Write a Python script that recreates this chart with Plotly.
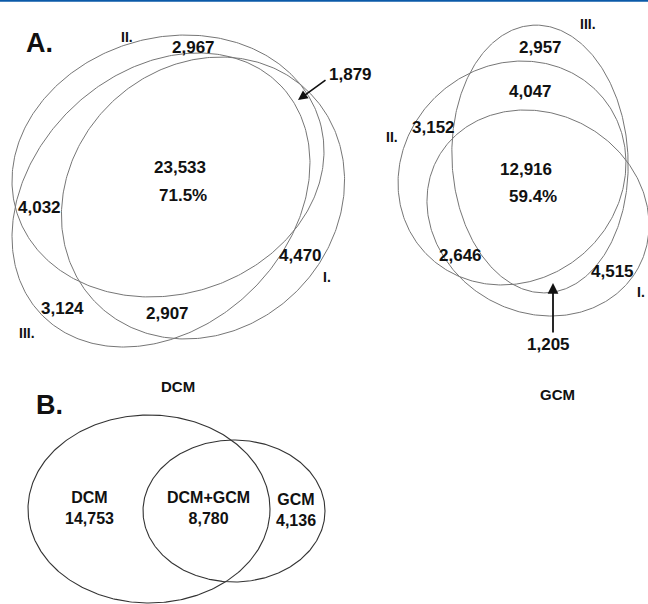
import numpy as np
import plotly.graph_objects as go

# ---- data ----
dcm_regions = ["all", "II only", "I+II", "II+III", "I only", "III only", "I+III"]
dcm_values = [23533, 2967, 1879, 4032, 4470, 3124, 2907]
dcm_percent = "71.5%"

gcm_regions = ["all", "III only", "II+III", "II only", "I+II", "I only", "I+III"]
gcm_values = [12916, 2957, 4047, 3152, 2646, 4515, 1205]
gcm_percent = "59.4%"

b_labels = ["DCM", "DCM+GCM", "GCM"]
b_values = [14753, 8780, 4136]

set_names = ["I.", "II.", "III."]

W, H = 648, 604
fig = go.Figure()

def ellipse(cx, cy, a, b, th, color="#767676", width=1.0):
    t = np.linspace(0, 2 * np.pi, 400)
    r = np.radians(th)
    x = cx + a * np.cos(t) * np.cos(r) - b * np.sin(t) * np.sin(r)
    y = cy - (a * np.cos(t) * np.sin(r) + b * np.sin(t) * np.cos(r))
    fig.add_trace(go.Scatter(x=x, y=y, mode="lines", line=dict(color=color, width=width),
                             hoverinfo="skip", showlegend=False))

# Panel A - DCM
ellipse(168, 166, 158.2, 128.3, 16.5)   # II
ellipse(161, 200, 165.6, 128.0, 43.5)   # III
ellipse(203, 198, 149.8, 132.2, 44.0)   # I
# Panel A - GCM
ellipse(540, 159, 134, 88, 93)          # III
ellipse(512, 173, 118, 107.7, 39.4)     # II
ellipse(538, 213, 114.3, 99.4, -28.7)   # I
# Panel B
ellipse(149, 509, 121, 94, 0, color="#333333", width=1.1)
ellipse(234, 511, 91, 71, 0, color="#333333", width=1.1)

FONT = "Arial, Liberation Sans, sans-serif"

def txt(x, y, s, size=17, anchor="center"):
    fig.add_annotation(x=x, y=y, text="<b>" + s + "</b>", showarrow=False, xref="x", yref="y",
                       xanchor=anchor, yanchor="middle",
                       font=dict(family=FONT, size=size, color="#111111"))

def fmt(v):
    return f"{v:,}"

# panel letters
txt(39, 43, "A.", size=27)
txt(49, 405, "B.", size=27)

# DCM 3-set
dcm_pos = [(180, 167), (193, 47), (350, 74), (39, 207), (300, 255), (62, 308), (167, 313)]
for (x, y), v in zip(dcm_pos, dcm_values):
    txt(x, y, fmt(v))
txt(183, 195, dcm_percent)
txt(327, 277, set_names[0], size=14)
txt(127, 37, set_names[1], size=14)
txt(27, 333, set_names[2], size=14)
txt(178, 386, "DCM", size=15)
fig.add_annotation(x=298, y=100, ax=327, ay=79, xref="x", yref="y", axref="x", ayref="y",
                   text="", showarrow=True, arrowhead=2, arrowsize=1.2, arrowwidth=1.6,
                   arrowcolor="#111111")

# GCM 3-set
gcm_pos = [(526, 169), (540, 47), (530, 91), (433, 127), (460, 255), (612, 271), (548, 344)]
for (x, y), v in zip(gcm_pos, gcm_values):
    txt(x, y, fmt(v))
txt(533, 196, gcm_percent)
txt(647, 292, set_names[0], size=14, anchor="right")
txt(392, 137, set_names[1], size=14)
txt(588, 24, set_names[2], size=14)
txt(557, 394, "GCM", size=15)
fig.add_annotation(x=553, y=283, ax=553, ay=334, xref="x", yref="y", axref="x", ayref="y",
                   text="", showarrow=True, arrowhead=2, arrowsize=1.2, arrowwidth=1.8,
                   arrowcolor="#111111")

# Panel B
b_pos = [(89, 508), (208, 508), (296, 510)]
for (x, y), lab, v in zip(b_pos, b_labels, b_values):
    txt(x, y, lab + "<br>" + fmt(v), size=16)

# top blue rule
fig.add_shape(type="line", x0=0, x1=W, y0=0.8, y1=0.8, xref="x", yref="y",
              line=dict(color="#0b5aa8", width=2))

fig.update_layout(width=W, height=H, margin=dict(l=0, r=0, t=0, b=0),
                  paper_bgcolor="white", plot_bgcolor="white", showlegend=False,
                  xaxis=dict(range=[0, W], visible=False, fixedrange=True),
                  yaxis=dict(range=[H, 0], visible=False, fixedrange=True))
fig.write_html("out.html", config={"displayModeBar": False},
               post_script="document.body.style.margin='0px';document.body.style.overflow='hidden';")
